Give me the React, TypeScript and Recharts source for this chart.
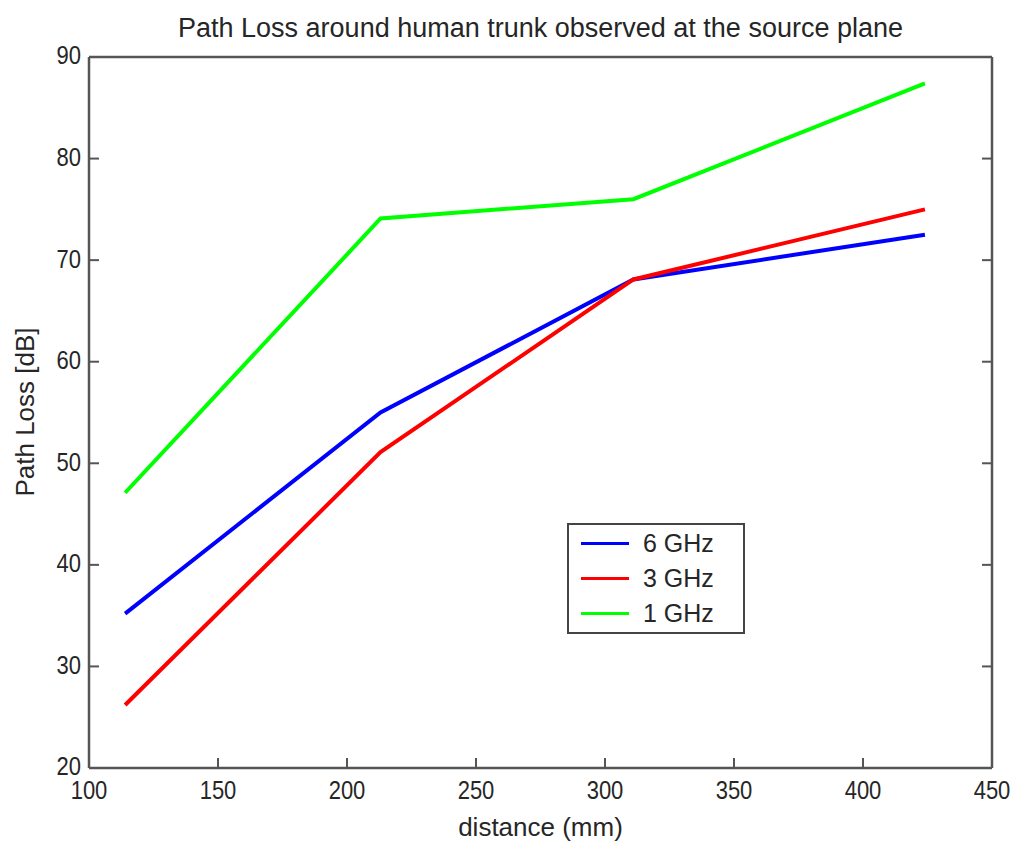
import { LineChart, Line, XAxis, YAxis, Legend } from "recharts";

const distance = [114, 213, 311, 424];
const loss6GHz = [35.2, 55.0, 68.1, 72.5];
const loss3GHz = [26.2, 51.1, 68.1, 75.0];
const loss1GHz = [47.1, 74.1, 76.0, 87.4];

const xTicks = [100, 150, 200, 250, 300, 350, 400, 450];
const yTicks = [20, 30, 40, 50, 60, 70, 80, 90];

const series = [
  { key: "f6", name: "6 GHz", color: "#0000ff" },
  { key: "f3", name: "3 GHz", color: "#ff0000" },
  { key: "f1", name: "1 GHz", color: "#00ff00" },
];

const data = distance.map((d, i) => ({
  d,
  f6: loss6GHz[i],
  f3: loss3GHz[i],
  f1: loss1GHz[i],
}));

const FONT = "'Liberation Sans', Arial, sans-serif";
const TEXT = "#262626";
const AXIS = "#555";
const TICK_LEN = 10;

const tickText = (x: number, y: number, anchor: string, base: string, label: string) => (
  <text
    transform={`translate(${x} ${y}) scale(0.88 1)`}
    textAnchor={anchor}
    dominantBaseline={base}
    fontSize={25}
    fontFamily={FONT}
    fill={TEXT}
  >
    {label}
  </text>
);

const LeftTick = (p: any) => (
  <g>
    <line x1={p.x} y1={p.y} x2={p.x + TICK_LEN} y2={p.y} stroke={AXIS} strokeWidth={2} />
    {tickText(p.x - 8, p.y - 1, "end", "central", String(p.payload.value))}
  </g>
);

const BottomTick = (p: any) => (
  <g>
    <line x1={p.x} y1={p.y} x2={p.x} y2={p.y - TICK_LEN} stroke={AXIS} strokeWidth={2} />
    {tickText(p.x, p.y + 13, "middle", "hanging", String(p.payload.value))}
  </g>
);

const TopTick = (p: any) => (
  <line x1={p.x} y1={p.y} x2={p.x} y2={p.y + TICK_LEN} stroke={AXIS} strokeWidth={2} />
);

const RightTick = (p: any) => (
  <line x1={p.x} y1={p.y} x2={p.x - TICK_LEN} y2={p.y} stroke={AXIS} strokeWidth={2} />
);

const LegendBox = () => (
  <div
    style={{
      border: "2px solid #444",
      background: "#fff",
      padding: "1px 0",
      width: 174,
      boxSizing: "content-box",
      fontFamily: FONT,
      color: TEXT,
    }}
  >
    {series.map((s) => (
      <div key={s.key} style={{ height: 35, display: "flex", alignItems: "center" }}>
        <div style={{ width: 48, height: 3, background: s.color, marginLeft: 12 }} />
        <span style={{ marginLeft: 14, fontSize: 25 }}>{s.name}</span>
      </div>
    ))}
  </div>
);

const textStyle = {
  position: "absolute" as const,
  lineHeight: "30px",
  textAlign: "center" as const,
  fontFamily: FONT,
  fontSize: 26,
  color: TEXT,
  whiteSpace: "nowrap" as const,
};

export default function App() {
  return (
    <div style={{ position: "absolute", left: 0, top: 0, width: 1024, height: 853, background: "#fff" }}>
      <LineChart
        width={1024}
        height={853}
        data={data}
        margin={{ top: 56, right: 31, bottom: 84, left: 88 }}
      >
        <XAxis
          dataKey="d"
          type="number"
          domain={[100, 450]}
          ticks={xTicks}
          allowDataOverflow
          height={1}
          tickSize={0}
          tickMargin={0}
          tickLine={false}
          axisLine={{ stroke: AXIS, strokeWidth: 2.5 }}
          tick={BottomTick}
          interval={0}
        />
        <XAxis
          xAxisId="top"
          orientation="top"
          type="number"
          domain={[100, 450]}
          ticks={xTicks}
          allowDataOverflow
          height={1}
          tickSize={0}
          tickMargin={0}
          tickLine={false}
          axisLine={{ stroke: AXIS, strokeWidth: 2.5 }}
          tick={TopTick}
          interval={0}
        />
        <YAxis
          type="number"
          domain={[20, 90]}
          ticks={yTicks}
          allowDataOverflow
          width={1}
          tickSize={0}
          tickMargin={0}
          tickLine={false}
          axisLine={{ stroke: AXIS, strokeWidth: 2.5 }}
          tick={LeftTick}
          interval={0}
        />
        <YAxis
          yAxisId="right"
          orientation="right"
          type="number"
          domain={[20, 90]}
          ticks={yTicks}
          allowDataOverflow
          width={1}
          tickSize={0}
          tickMargin={0}
          tickLine={false}
          axisLine={{ stroke: AXIS, strokeWidth: 2.5 }}
          tick={RightTick}
          interval={0}
        />
        <Legend
          layout="vertical"
          align="center"
          verticalAlign="middle"
          content={LegendBox}
          wrapperStyle={{ left: 567, top: 523, width: 178, height: 112 }}
        />
        {series.map((s) => (
          <Line
            key={s.key}
            dataKey={s.key}
            name={s.name}
            stroke={s.color}
            strokeWidth={4}
            dot={false}
            activeDot={false}
            type="linear"
            isAnimationActive={false}
          />
        ))}
      </LineChart>
      <div style={{ ...textStyle, left: 89, width: 903, top: 13, fontSize: 27 }}>
        Path Loss around human trunk observed at the source plane
      </div>
      <div style={{ ...textStyle, left: 89, width: 903, top: 812 }}>distance (mm)</div>
      <div
        style={{
          ...textStyle,
          left: 25 - 150,
          width: 300,
          top: 412 - 15,
          height: 30,
          transform: "rotate(-90deg)",
        }}
      >
        Path Loss [dB]
      </div>
    </div>
  );
}
